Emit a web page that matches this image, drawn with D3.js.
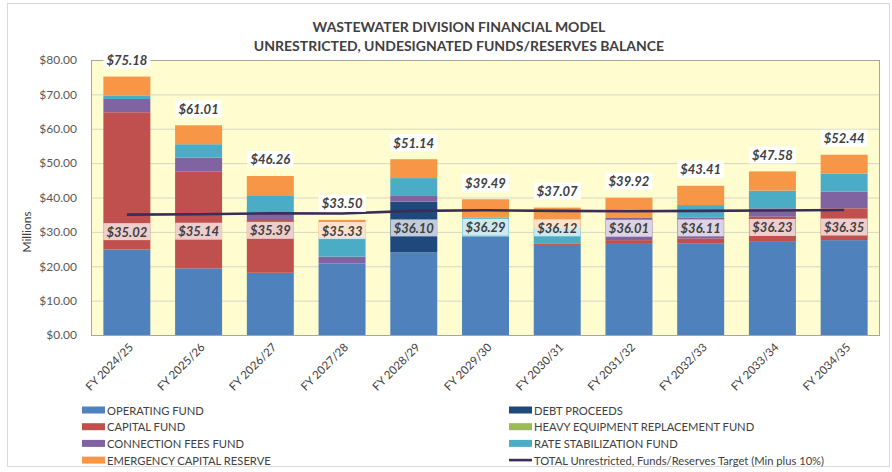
<!DOCTYPE html>
<html><head><meta charset="utf-8">
<script src="https://cdn.jsdelivr.net/npm/d3@7"></script>
<style>
html,body{margin:0;padding:0;background:#fff;}
svg{display:block;font-family:Lato,"Open Sans",sans-serif;}
</style></head>
<body>
<svg id="chart" width="892" height="472"></svg>
<script>
const categories = ["FY 2024/25","FY 2025/26","FY 2026/27","FY 2027/28","FY 2028/29","FY 2029/30","FY 2030/31","FY 2031/32","FY 2032/33","FY 2033/34","FY 2034/35"];
const operatingFund      = [24.90, 19.40, 18.10, 20.85, 24.05, 28.60, 26.20, 26.50, 26.70, 27.10, 27.60];
const capitalFund        = [39.90, 28.10, 15.35,  0.00,  0.00,  0.00,  0.30,  1.10,  1.40,  7.30,  9.25];
const debtProceeds       = [ 0.00,  0.00,  0.00,  0.00, 14.75,  0.00,  0.00,  0.00,  0.00,  0.00,  0.00];
const connectionFeesFund = [ 3.85,  4.10,  1.95,  1.95,  1.65,  0.00,  0.00,  6.60,  6.10,  2.45,  4.85];
const heavyEquipmentFund = [ 0.00,  0.00,  0.00,  0.00,  0.00,  0.00,  0.00,  0.00,  0.00,  0.00,  0.00];
const rateStabilization  = [ 0.95,  3.90,  5.25,  5.80,  5.20,  5.60,  4.60,  0.00,  3.60,  5.15,  5.30];
const emergencyReserve   = [ 5.58,  5.51,  5.61,  4.90,  5.49,  5.29,  5.97,  5.72,  5.61,  5.58,  5.44];
const totalLabels        = [75.18, 61.01, 46.26, 33.50, 51.14, 39.49, 37.07, 39.92, 43.41, 47.58, 52.44];
const targetValues       = [35.02, 35.14, 35.39, 35.33, 36.10, 36.29, 36.12, 36.01, 36.11, 36.23, 36.35];
const yTicks = [0,10,20,30,40,50,60,70,80];
const titleLines = ["WASTEWATER DIVISION FINANCIAL MODEL","UNRESTRICTED, UNDESIGNATED FUNDS/RESERVES BALANCE"];

const seriesDefs = [
  {key:"op",  name:"OPERATING FUND", values:operatingFund, color:"#4f81bd"},
  {key:"cap", name:"CAPITAL FUND", values:capitalFund, color:"#c0504d"},
  {key:"debt",name:"DEBT PROCEEDS", values:debtProceeds, color:"#1f497d"},
  {key:"conn",name:"CONNECTION FEES FUND", values:connectionFeesFund, color:"#8064a2"},
  {key:"heavy",name:"HEAVY EQUIPMENT REPLACEMENT FUND", values:heavyEquipmentFund, color:"#9bbb59"},
  {key:"rate",name:"RATE STABILIZATION FUND", values:rateStabilization, color:"#4bacc6"},
  {key:"em",  name:"EMERGENCY CAPITAL RESERVE", values:emergencyReserve, color:"#f79646"}
];
const lineName = "TOTAL Unrestricted, Funds/Reserves Target (Min plus 10%)";
const lineColor = "#3b2d5a";

const rows = categories.map((c,i)=>{const r={cat:c}; seriesDefs.forEach(s=>r[s.key]=s.values[i]); return r;});
const stack = d3.stack().keys(seriesDefs.map(s=>s.key))(rows);

const svg = d3.select("#chart");
const px0=91, px1=880, py0=60, py1=335;

// outer border
svg.append("rect").attr("x",7.5).attr("y",3.5).attr("width",882).attr("height",463)
  .attr("fill","#fff").attr("stroke","#d9d9d9");

const x = d3.scaleBand().domain(categories).range([px0,px1]).paddingInner(0.345).paddingOuter(0.1725);
const y = d3.scaleLinear().domain([0,80]).range([py1,py0]);

// plot area
svg.append("rect").attr("x",px0).attr("y",py0).attr("width",px1-px0).attr("height",py1-py0).attr("fill","#fffdd0");

// gridlines
svg.append("g").selectAll("line").data(yTicks.filter(t=>t>0&&t<80)).join("line")
  .attr("x1",px0).attr("x2",px1).attr("y1",d=>y(d)+0.5).attr("y2",d=>y(d)+0.5)
  .attr("stroke","#d6d6c4").attr("stroke-width",1);

// plot border
svg.append("rect").attr("x",px0+0.5).attr("y",py0+0.5).attr("width",px1-px0-1).attr("height",py1-py0)
  .attr("fill","none").attr("stroke","#a6a6a6");

// y axis
const yAxis = d3.axisLeft(y).tickValues(yTicks).tickFormat(d=>"$"+d.toFixed(2)).tickSize(0).tickPadding(14);
const yg = svg.append("g").attr("transform",`translate(${px0},0)`).call(yAxis);
yg.select(".domain").remove();
yg.selectAll("text").attr("font-family","Lato").attr("font-size",12).attr("fill","#595959");

svg.append("text").attr("transform","translate(31,232) rotate(-90)").attr("text-anchor","middle")
  .attr("font-size",12).attr("fill","#404040").text("Millions");

// bars
const colorOf = Object.fromEntries(seriesDefs.map(s=>[s.key,s.color]));
svg.append("g").selectAll("g").data(stack).join("g").attr("fill",d=>colorOf[d.key])
  .selectAll("rect").data(d=>d).join("rect")
  .attr("x",d=>x(d.data.cat)).attr("width",x.bandwidth())
  .attr("y",d=>y(d[1])).attr("height",d=>Math.max(0,y(d[0])-y(d[1])));

// target line
const line = d3.line().x((d,i)=>x(categories[i])+x.bandwidth()/2).y(d=>y(d));
svg.append("path").datum(targetValues).attr("d",line).attr("fill","none")
  .attr("stroke",lineColor).attr("stroke-width",2.6);

// labels helper
function boxLabel(g, cx, cy, txt, fill){
  const gg = g.append("g");
  const r = gg.append("rect").attr("fill",fill);
  const t = gg.append("text").attr("x",cx).attr("y",cy).attr("text-anchor","middle").attr("dominant-baseline","central")
    .attr("font-size",13).attr("font-weight","bold").attr("font-style","italic").attr("fill","#404040").text(txt);
  const b = t.node().getBBox();
  r.attr("x",b.x-3).attr("y",cy-8.5).attr("width",b.width+6).attr("height",17);
}
const lg = svg.append("g");
// target labels
targetValues.forEach((v,i)=>{
  boxLabel(lg, x(categories[i])+x.bandwidth()/2, y(v)+17, "$"+v.toFixed(2), "rgba(255,255,255,0.72)");
});
// total labels
totalLabels.forEach((v,i)=>{
  const top = stack[stack.length-1][i][1];
  boxLabel(lg, x(categories[i])+x.bandwidth()/2, y(top)-16.5, "$"+v.toFixed(2), "#ffffff");
});

// x axis labels
svg.append("g").selectAll("text").data(categories).join("text")
  .attr("transform",d=>`translate(${x(d)+x.bandwidth()/2+7},${py1+13}) rotate(-45)`)
  .attr("text-anchor","end").attr("font-size",11.5).attr("fill","#404040").text(d=>d);

// title
svg.append("g").selectAll("text").data(titleLines).join("text")
  .attr("x",459).attr("y",(d,i)=>32+i*19).attr("text-anchor","middle")
  .attr("font-size",14).attr("font-weight","bold").attr("fill","#404040").text(d=>d);

// legend
const legendItems = [
  {name:seriesDefs[0].name,color:seriesDefs[0].color,col:0,row:0},
  {name:seriesDefs[1].name,color:seriesDefs[1].color,col:0,row:1},
  {name:seriesDefs[3].name,color:seriesDefs[3].color,col:0,row:2},
  {name:seriesDefs[6].name,color:seriesDefs[6].color,col:0,row:3},
  {name:seriesDefs[2].name,color:seriesDefs[2].color,col:1,row:0},
  {name:seriesDefs[4].name,color:seriesDefs[4].color,col:1,row:1},
  {name:seriesDefs[5].name,color:seriesDefs[5].color,col:1,row:2},
  {name:lineName,color:lineColor,col:1,row:3,line:true}
];
const leg = svg.append("g").selectAll("g").data(legendItems).join("g")
  .attr("transform",d=>`translate(${d.col?509:82},${410+d.row*16.7})`);
leg.each(function(d){
  const g=d3.select(this);
  if(d.line) g.append("line").attr("x1",0).attr("x2",23).attr("y1",0).attr("y2",0).attr("stroke",d.color).attr("stroke-width",2.6);
  else g.append("rect").attr("x",0).attr("y",-3.5).attr("width",23).attr("height",7).attr("fill",d.color);
  g.append("text").attr("x",25).attr("y",0).attr("dominant-baseline","central").attr("font-size",11.2).attr("fill","#404040").text(d.name);
});
</script>
</body></html>
